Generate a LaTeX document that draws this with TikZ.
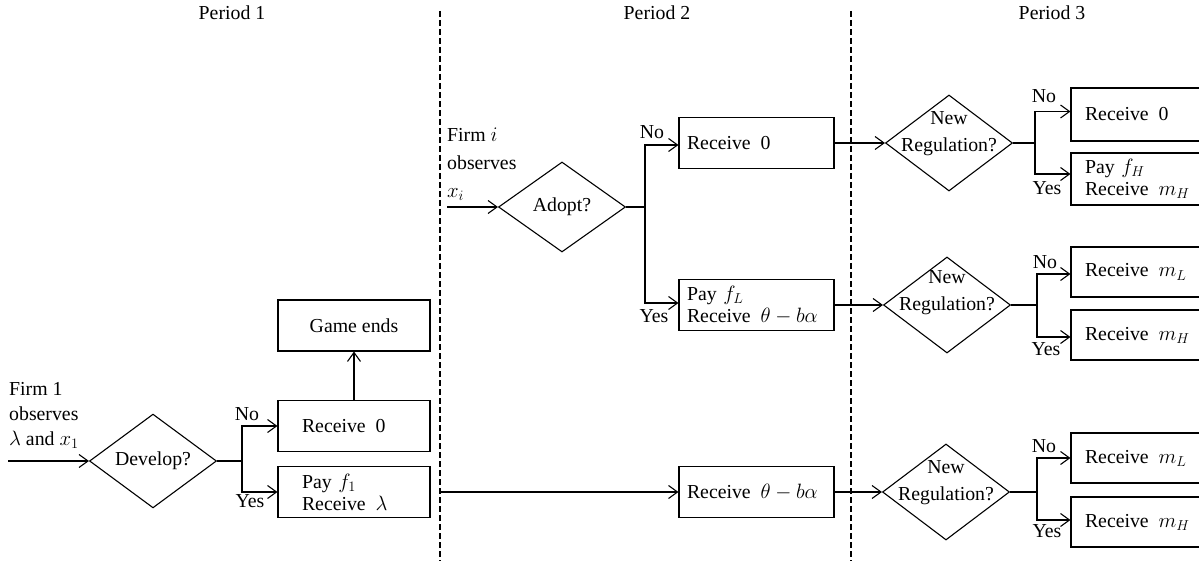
\documentclass[tikz,border=0pt]{standalone}
\usepackage{fontspec}
\setmainfont{Liberation Serif}
\usetikzlibrary{shapes.geometric,arrows.meta}
\begin{document}
\begin{tikzpicture}[x=1pt,y=-1pt,
  every node/.style={font=\fontsize{19.8}{22}\selectfont},
  ln/.style={line width=1.1pt},
  arr/.style={ln,-{Straight Barb[length=9pt,width=13pt]}},
  bx/.style={draw,ln,rectangle,align=left,inner ysep=0pt,minimum height=51pt},
  bxr/.style={bx,text width=112pt,inner xsep=14pt,minimum height=51pt},
  dm/.style={draw,ln,diamond,inner sep=0pt,minimum width=127pt,minimum height=90pt},
  dmr/.style={draw,ln,diamond,inner sep=0pt,minimum width=127pt,minimum height=96pt},
  lbl/.style={inner sep=0pt},
  sepline/.style={line width=1.1pt,dash pattern=on 6pt off 3pt}]
\fill[white] (0,0) rectangle (1199,561);
\useasboundingbox (0,0) rectangle (1199,561);

% period titles
\node (p1) at (232,13) {Period 1};
\node (p2) at (657,13) {Period 2};
\node (p3) at (1052,13) {Period 3};

% separators
\coordinate (s1t) at (440,11); \coordinate (s1b) at (440,561);
\coordinate (s2t) at (851,11); \coordinate (s2b) at (851,561);
\draw[sepline] (s1t) -- (s1b);
\draw[sepline] (s2t) -- (s2b);

% ---------------- Period 1
\node[align=left,anchor=north west,inner sep=0pt] (f1) at (9,382) {Firm 1\\[3pt]observes\\[3pt]$\lambda$ and $x_1$};
\coordinate (in1) at (8,461);
\node[dm] (dev) at (153,461) {Develop?};
\draw[arr] (in1) -- (dev.west);

\node[bx,text width=104pt,inner xsep=24pt] (r1) at (354,426) {Receive\enspace0};
\node[bx,text width=104pt,inner xsep=24pt] (pay1) at (354,492) {Pay $f_1$\\Receive\enspace$\lambda$};
\node[bx,align=center,minimum width=152pt] (ge) at (354,325.5) {Game ends};
\draw[arr] (r1) -- (ge);

\coordinate (b1) at (242,461);
\draw[ln] (dev.east) -- (b1);
\draw[arr] (b1) |- (r1.west);
\draw[arr] (b1) |- (pay1.west);
\node[lbl] (no1) at (247,414) {No};
\node[lbl] (yes1) at (250,501) {Yes};

% bottom long arrow
\coordinate (c1) at (441,492);
\node[bx,text width=139pt,inner xsep=8pt] (rt2) at (756.5,492) {Receive\enspace$\theta-b\alpha$};
\draw[arr] (c1) -- (rt2.west);

% ---------------- Period 2
\node[align=left,anchor=north west,inner sep=0pt] (fi) at (447,128) {Firm $i$\\[6pt]observes\\[6pt]$x_i$};
\coordinate (in2) at (447,207);
\node[dm] (ad) at (562,207) {Adopt?};
\draw[arr] (in2) -- (ad.west);

\node[bx,text width=139pt,inner xsep=8pt] (r2) at (756.5,143) {Receive\enspace0};
\node[bx,text width=139pt,inner xsep=8pt] (pl) at (756.5,305) {Pay $f_L$\\Receive\enspace$\theta-b\alpha$};
\coordinate (b2) at (645,207);
\draw[ln] (ad.east) -- (b2);
\draw[arr] (b2) |- ([yshift=-2pt]r2.west);
\draw[arr] (b2) |- ([yshift=2pt]pl.west);
\node[lbl] (no2) at (652,132) {No};
\node[lbl] (yes2) at (654,316) {Yes};

% ---------------- Period 3
% top
\node[dmr] (n1) at (949,143) {};
\node[align=center,inner sep=0pt] (n1t) at (949,134) {New\\[5pt]Regulation?};
\draw[arr] (r2.east) -- (n1.west);
\node[bxr,minimum height=53pt] (q1) at (1141,114.5) {Receive\enspace0};
\node[bxr,minimum height=52pt] (q2) at (1141,179) {Pay $f_H$\\Receive\enspace$m_H$};
\coordinate (b3) at (1035,143);
\draw[ln] (n1.east) -- (b3);
\draw[arr] (b3) |- ([yshift=3pt]q1.west);
\draw[arr] (b3) |- ([yshift=5pt]q2.west);
\node[lbl] (no3) at (1044,96) {No};
\node[lbl] (yes3) at (1047,188) {Yes};

% middle
\node[dmr] (n2) at (947,305) {};
\node[align=center,inner sep=0pt] (n2t) at (947,293) {New\\[5pt]Regulation?};
\draw[arr] (pl.east) -- (n2.west);
\node[bxr,minimum height=50pt] (q3) at (1141,272) {Receive\enspace$m_L$};
\node[bxr,minimum height=50pt] (q4) at (1141,335) {Receive\enspace$m_H$};
\coordinate (b4) at (1037,305);
\draw[ln] (n2.east) -- (b4);
\draw[arr] (b4) |- ([yshift=-2pt]q3.west);
\draw[arr] (b4) |- ([yshift=-2pt]q4.west);
\node[lbl] (no4) at (1045,262) {No};
\node[lbl] (yes4) at (1046,349) {Yes};

% bottom
\node[dmr] (n3) at (946,492) {};
\node[align=center,inner sep=0pt] (n3t) at (946,483) {New\\[5pt]Regulation?};
\draw[arr] (rt2.east) -- (n3.west);
\node[bxr,minimum height=50pt] (q5) at (1141,458) {Receive\enspace$m_L$};
\node[bxr,minimum height=50pt] (q6) at (1141,522) {Receive\enspace$m_H$};
\coordinate (b5) at (1037,492);
\draw[ln] (n3.east) -- (b5);
\draw[arr] (b5) |- (q5.west);
\draw[arr] (b5) |- ([yshift=2pt]q6.west);
\node[lbl] (no5) at (1044,446) {No};
\node[lbl] (yes5) at (1047,531) {Yes};
\end{tikzpicture}
\end{document}
